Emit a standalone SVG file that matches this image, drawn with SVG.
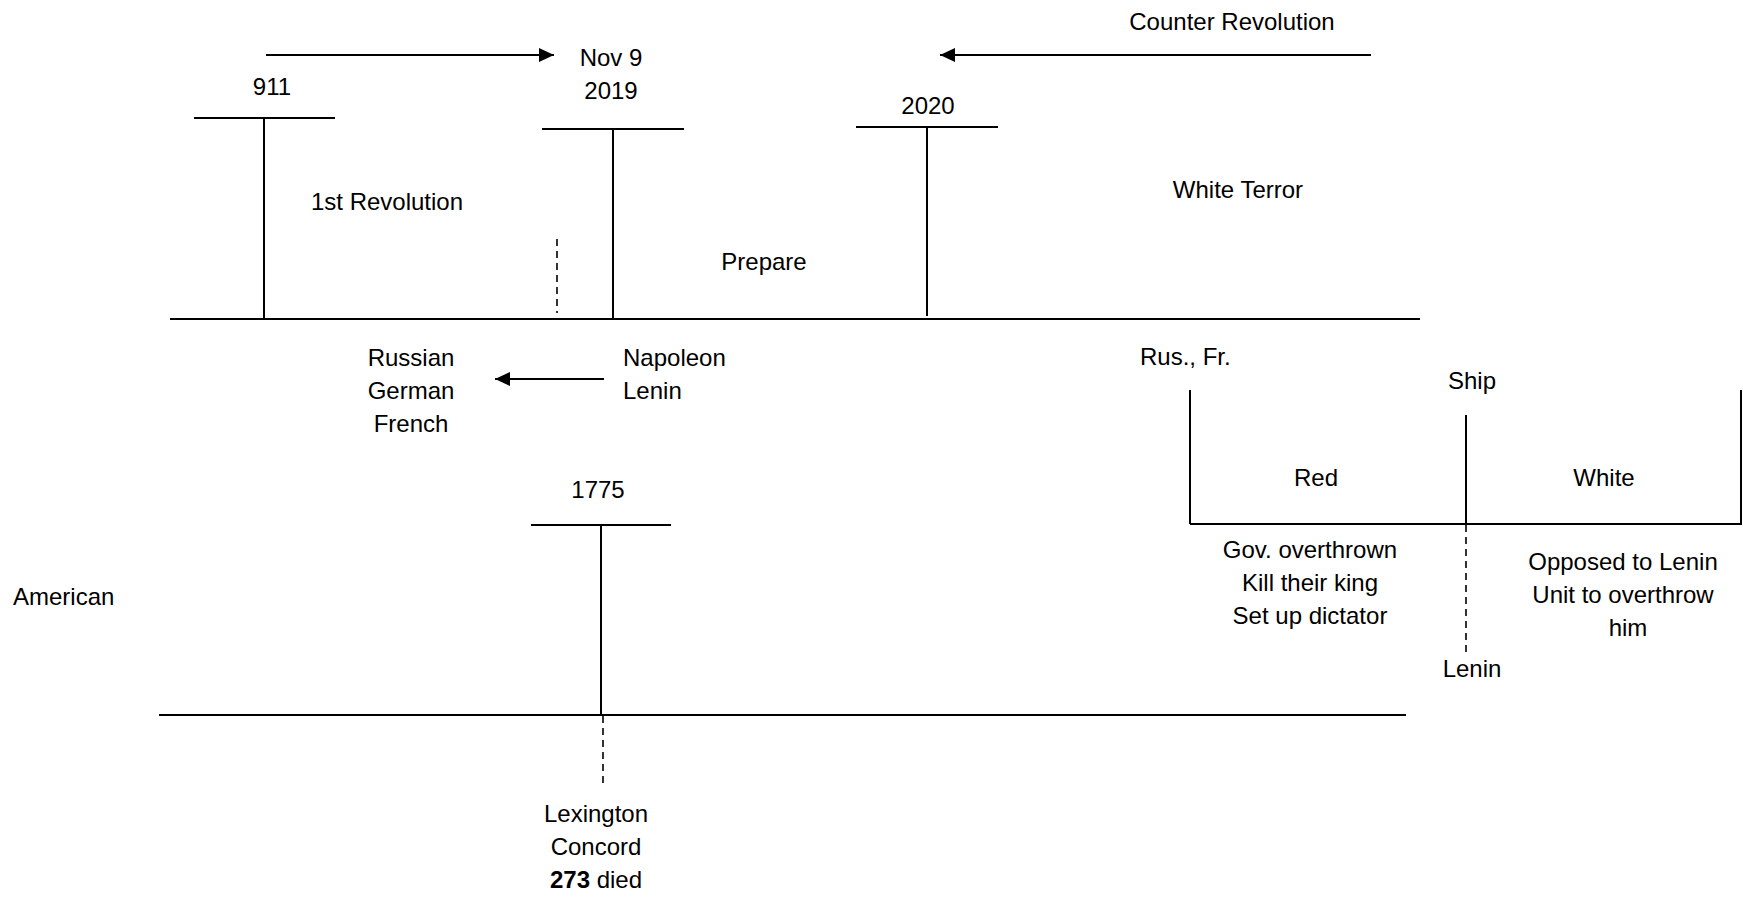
<svg xmlns="http://www.w3.org/2000/svg" width="1743" height="897" viewBox="0 0 1743 897">
<style>
  text { font-family: "Liberation Sans", Arial, sans-serif; font-size: 24px; fill: #000; text-anchor: middle; }
  .ln { stroke: #000; stroke-width: 2; fill: none; }
  .dash { stroke: #000; stroke-width: 1.6; fill: none; stroke-dasharray: 7 5; }
  .b { font-weight: bold; }
</style>
<defs>
  <marker id="ah" markerUnits="userSpaceOnUse" markerWidth="16" markerHeight="16" refX="15" refY="7" orient="auto">
    <path d="M0,0 L15,7 L0,14 Z" fill="#000"/>
  </marker>
</defs>
<rect width="1743" height="897" fill="#fff"/>

<g id="timeline-top">
  <line class="ln" x1="170" y1="319" x2="1420" y2="319"/>
</g>
<g id="t-911">
  <line class="ln" x1="194" y1="118" x2="335" y2="118"/>
  <line class="ln" x1="264" y1="118" x2="264" y2="319"/>
  <text x="272" y="95">911</text>
</g>
<g id="t-2019">
  <line class="ln" x1="542" y1="129" x2="684" y2="129"/>
  <line class="ln" x1="613" y1="129" x2="613" y2="319"/>
  <text x="611" y="66">Nov 9</text>
  <text x="611" y="99">2019</text>
  <line class="dash" x1="557" y1="239" x2="557" y2="313"/>
</g>
<g id="t-2020">
  <line class="ln" x1="856" y1="127" x2="998" y2="127"/>
  <line class="ln" x1="927" y1="127" x2="927" y2="316"/>
  <text x="928" y="114">2020</text>
</g>
<g id="lbl-1st">
  <text x="387" y="210">1st Revolution</text>
</g>
<g id="lbl-prepare">
  <text x="764" y="270">Prepare</text>
</g>
<g id="lbl-white-terror">
  <text x="1238" y="198">White Terror</text>
</g>
<g id="lbl-counter">
  <text x="1232" y="30">Counter Revolution</text>
</g>
<g id="lbl-countries">
  <text x="411" y="366">Russian</text>
  <text x="411" y="399">German</text>
  <text x="411" y="432">French</text>
</g>
<g id="lbl-napoleon">
  <text x="623" y="366" style="text-anchor:start">Napoleon</text>
  <text x="623" y="399" style="text-anchor:start">Lenin</text>
</g>
<g id="lbl-american">
  <text x="13" y="605" style="text-anchor:start">American</text>
</g>
<g id="timeline-bottom">
  <line class="ln" x1="159" y1="715" x2="1406" y2="715"/>
</g>
<g id="t-1775">
  <line class="ln" x1="531" y1="525" x2="671" y2="525"/>
  <line class="ln" x1="601" y1="525" x2="601" y2="715"/>
  <text x="598" y="498">1775</text>
  <line class="dash" x1="603" y1="716" x2="603" y2="788"/>
  <text x="596" y="822">Lexington</text>
  <text x="596" y="855">Concord</text>
  <text x="596" y="888"><tspan class="b">273</tspan> died</text>
</g>
<g id="civil-war">
  <text x="1140" y="365" style="text-anchor:start">Rus., Fr.</text>
  <line class="ln" x1="1190" y1="390" x2="1190" y2="524"/>
  <line class="ln" x1="1190" y1="524" x2="1742" y2="524"/>
  <line class="ln" x1="1741" y1="390" x2="1741" y2="524"/>
  <text x="1472" y="389">Ship</text>
  <line class="ln" x1="1466" y1="415" x2="1466" y2="524"/>
  <line class="dash" x1="1466" y1="525" x2="1466" y2="656"/>
  <text x="1472" y="677">Lenin</text>
  <text x="1316" y="486">Red</text>
  <text x="1604" y="486">White</text>
  <text x="1310" y="558">Gov. overthrown</text>
  <text x="1310" y="591">Kill their king</text>
  <text x="1310" y="624">Set up dictator</text>
  <text x="1623" y="570">Opposed to Lenin</text>
  <text x="1623" y="603">Unit to overthrow</text>
  <text x="1628" y="636">him</text>
</g>
<g id="connectors">
  <line class="ln" x1="266" y1="55" x2="554" y2="55" marker-end="url(#ah)"/>
  <line class="ln" x1="1371" y1="55" x2="940" y2="55" marker-end="url(#ah)"/>
  <line class="ln" x1="604" y1="379" x2="495" y2="379" marker-end="url(#ah)"/>
</g>
</svg>
